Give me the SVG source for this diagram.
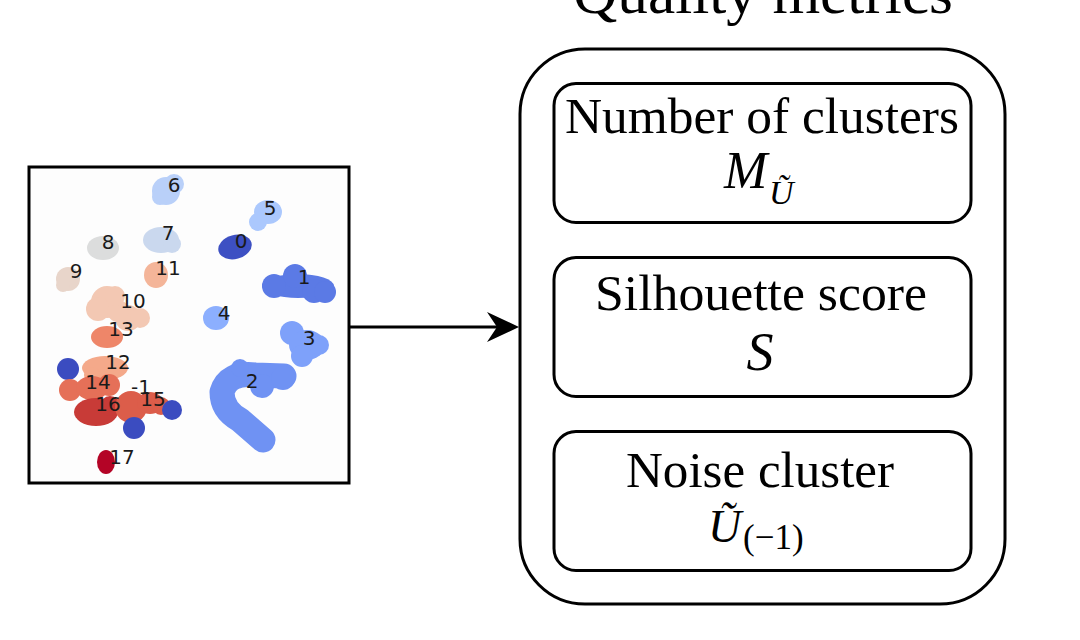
<svg xmlns="http://www.w3.org/2000/svg" width="1080" height="640" viewBox="0 0 1080 640">
<defs>
<style>
.frame{fill:none;stroke:#000;stroke-width:3}
.box{fill:#fff;stroke:#000;stroke-width:3}
.lbl{font-family:"DejaVu Sans",sans-serif;font-size:20px;fill:#1a1a1a;text-anchor:middle;dominant-baseline:central}
.t{font-family:"Liberation Serif","Times New Roman",serif;fill:#000;text-anchor:middle}
.m{font-family:"Liberation Serif","Times New Roman",serif;fill:#000;font-style:italic}
.r{font-family:"Liberation Serif","Times New Roman",serif;fill:#000}
.conn{stroke:#000;stroke-width:3;fill:none}
</style>
</defs>
<rect width="1080" height="640" fill="#fff"/>

<g id="scatter-plot">
<rect x="29" y="167" width="320" height="316" fill="#fdfdfd"/>
<g id="blobs">
<g fill="#b9d0f9"><circle cx="166" cy="191" r="14"/><circle cx="174" cy="184" r="10"/><circle cx="160" cy="197" r="8"/></g>
<g fill="#abc8fd"><ellipse cx="268" cy="212" rx="14" ry="12"/><circle cx="258" cy="222" r="9"/></g>
<g fill="#cad8ee"><ellipse cx="161" cy="240" rx="18" ry="13"/><circle cx="172" cy="244" r="9"/></g>
<ellipse cx="235" cy="247" rx="17" ry="12" transform="rotate(-15 235 247)" fill="#3d50c3"/>
<g fill="#dcdddd"><ellipse cx="103" cy="248" rx="16" ry="12"/></g>
<g fill="#e8d5ca"><ellipse cx="68" cy="279" rx="12" ry="12"/><circle cx="63" cy="285" r="7"/></g>
<ellipse cx="156" cy="275" rx="12" ry="13" fill="#f4b599"/>
<g fill="#5b7ae5"><ellipse cx="298" cy="286" rx="36" ry="12"/><circle cx="295" cy="276" r="12"/><circle cx="274" cy="286" r="12"/><circle cx="314" cy="291" r="12"/><circle cx="325" cy="292" r="11"/></g>
<g fill="#f3c8b3"><circle cx="107" cy="302" r="16"/><circle cx="98" cy="309" r="12"/><circle cx="128" cy="318" r="13"/><circle cx="140" cy="318" r="10"/><circle cx="118" cy="311" r="11"/><circle cx="115" cy="296" r="10"/></g>
<ellipse cx="216" cy="318" rx="13" ry="12" fill="#8caffe"/>
<g fill="#7ea1fa"><circle cx="292" cy="333" r="12"/><ellipse cx="307" cy="345" rx="18" ry="15"/><circle cx="302" cy="356" r="11"/><circle cx="319" cy="345" r="10"/></g>
<g fill="#ee8669"><ellipse cx="107" cy="337" rx="16" ry="11"/></g>
<g fill="#6f92f3"><path d="M284 376 L255 375 Q228 372 222 392 Q222 410 240 420 L263 440" stroke="#6f92f3" stroke-width="25" stroke-linecap="round" stroke-linejoin="round" fill="none"/><circle cx="262" cy="386" r="12"/><circle cx="240" cy="368" r="9"/><circle cx="283" cy="378" r="12"/></g>
<g fill="#f4a98a"><ellipse cx="105" cy="368" rx="23" ry="12"/><circle cx="92" cy="375" r="8"/></g>
<circle cx="68" cy="369" r="11" fill="#3b4cc0"/>
<g fill="#e57058"><circle cx="70" cy="390" r="11"/><ellipse cx="92" cy="388" rx="16" ry="12"/><circle cx="109" cy="385" r="11"/></g>
<g fill="#c83b37"><ellipse cx="96" cy="412" rx="22" ry="14"/><circle cx="110" cy="406" r="10"/></g>
<g fill="#dc5d4a"><circle cx="131" cy="407" r="16"/><ellipse cx="150" cy="403" rx="13" ry="11"/><circle cx="161" cy="406" r="9"/></g>
<circle cx="172" cy="410" r="10" fill="#3b4cc0"/>
<circle cx="134" cy="428" r="11" fill="#3b4cc0"/>
<ellipse cx="106" cy="462" rx="9" ry="12" fill="#b40426"/>
</g>
<g id="cluster-labels">
<text class="lbl" x="174" y="185">6</text>
<text class="lbl" x="270" y="208">5</text>
<text class="lbl" x="168" y="233">7</text>
<text class="lbl" x="241" y="241">0</text>
<text class="lbl" x="108" y="242">8</text>
<text class="lbl" x="76" y="271">9</text>
<text class="lbl" x="168" y="268">11</text>
<text class="lbl" x="304" y="277">1</text>
<text class="lbl" x="133" y="301">10</text>
<text class="lbl" x="224" y="313">4</text>
<text class="lbl" x="309" y="338">3</text>
<text class="lbl" x="121" y="329">13</text>
<text class="lbl" x="252" y="381">2</text>
<text class="lbl" x="118" y="362">12</text>
<text class="lbl" x="98" y="382">14</text>
<text class="lbl" x="141" y="387">-1</text>
<text class="lbl" x="153" y="399">15</text>
<text class="lbl" x="108" y="404">16</text>
<text class="lbl" x="122" y="457">17</text>
</g>
<rect class="frame" x="29" y="167" width="320" height="316"/>
</g>

<g id="connectors">
<line class="conn" x1="349" y1="327" x2="500" y2="327"/>
<polygon points="519,327 487,312 497,327 487,342" fill="#000"/>
</g>

<g id="quality-metrics">
<text class="t" x="763" y="13" font-size="60" textLength="380" lengthAdjust="spacingAndGlyphs">Quality metrics</text>
<rect class="box" x="520" y="49" width="485" height="555" rx="65" ry="65"/>
</g>

<g id="box-number-of-clusters">
<rect class="box" x="554" y="83.5" width="417" height="139" rx="22" ry="22"/>
<text class="t" x="762" y="133" font-size="50" textLength="394" lengthAdjust="spacingAndGlyphs">Number of clusters</text>
<text class="m" x="724" y="188" font-size="52">M</text>
<text class="m" x="769" y="204" font-size="34">Ũ</text>
</g>

<g id="box-silhouette">
<rect class="box" x="554" y="257.5" width="417" height="139" rx="22" ry="22"/>
<text class="t" x="761" y="310" font-size="50" textLength="332" lengthAdjust="spacingAndGlyphs">Silhouette score</text>
<text class="m" x="760" y="370" font-size="54" text-anchor="middle">S</text>
</g>

<g id="box-noise">
<rect class="box" x="554" y="431.5" width="417" height="139" rx="22" ry="22"/>
<text class="t" x="760" y="487" font-size="50" textLength="268" lengthAdjust="spacingAndGlyphs">Noise cluster</text>
<text class="m" x="708" y="542" font-size="46">Ũ</text>
<text class="r" x="743" y="549" font-size="35">(−1)</text>
</g>
</svg>
